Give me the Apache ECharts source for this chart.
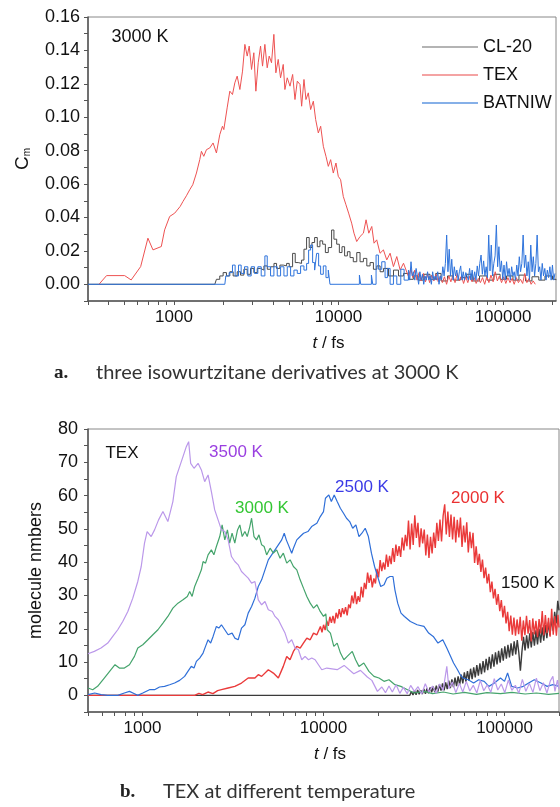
<!DOCTYPE html>
<html>
<head>
<meta charset="utf-8">
<script src="https://cdn.jsdelivr.net/npm/echarts@6.0.0/dist/echarts.min.js"></script>
<style>
  html, body { margin: 0; padding: 0; background: #fff; }
  #chart { width: 560px; height: 807px; }
</style>
</head>
<body>
<div id="chart"></div>
<script>
// ---------- Panel a: C_m of three isowurtzitane derivatives at 3000 K ----------
// each point is [t in fs, C_m]
const cl20 = [
  [300,0],[1770,0],[1811,0.003],[1897,0.005],[1989,0.007],[2084,0.005],[2184,0.0075],[2289,0.005],
  [2421,0.0075],[2536,0.0055],[2658,0.009],[2786,0.006],[2919,0.0095],[3059,0.007],[3206,0.0095],
  [3360,0.0085],[3521,0.011],[3690,0.009],[3867,0.0105],[4052,0.0125],[4202,0.0095],[4404,0.0115],
  [4615,0.011],[4836,0.0125],[5018,0.0105],[5259,0.0185],[5456,0.013],[5691,0.0125],[5963,0.0145],
  [6166,0.021],[6397,0.028],[6636,0.022],[6897,0.025],[7158,0.028],[7430,0.0225],[7711,0.026],
  [8013,0.024],[8320,0.019],[8670,0.022],[9080,0.0325],[9380,0.027],[9750,0.024],[10120,0.019],
  [10500,0.0225],[10890,0.017],[11320,0.0195],[11750,0.016],[12300,0.0135],[12910,0.019],
  [13520,0.0135],[14170,0.0155],[14860,0.011],[15560,0.013],[16300,0.009],[17100,0.011],
  [17900,0.0075],[18760,0.0095],[20130,0.005],[21590,0.0085],[23150,0.005],[24830,0.0065],
  [26620,0.003],[28500,0.005],[30500,0.0025],[33000,0.006],[36000,0.003],[39000,0.0065],
  [42000,0.002],[46000,0.005],[50000,0.0025],[55000,0.004],[60000,0.006],[65000,0.002],
  [72000,0.005],[80000,0.0025],[88000,0.006],[96000,0.003],[105000,0.005],[115000,0.0025],
  [125000,0.0055],[137000,0.002],[150000,0.0045],[165000,0.0025],[180000,0.005],[200000,0.003],
  [210000,0.0025]
];
const tex = [
  [350,0],[389,0.0052],[501,0.0052],[549,0.0026],[627,0.0106],[694,0.0276],[745,0.0206],[837,0.0226],
  [877,0.0326],[941,0.0406],[1010,0.0426],[1090,0.0466],[1134,0.0496],[1190,0.053],[1246,0.0566],
  [1300,0.0596],[1369,0.0666],[1434,0.0746],[1468,0.0796],[1517,0.0766],[1575,0.0806],[1649,0.0816],
  [1728,0.0846],[1811,0.0786],[1898,0.0896],[1970,0.0946],[2008,0.0926],[2104,0.1056],[2184,0.1156],
  [2267,0.1136],[2343,0.1206],[2421,0.1246],[2514,0.1166],[2609,0.1276],[2696,0.1436],[2786,0.1366],
  [2865,0.1426],[2960,0.1286],[3057,0.1386],[3145,0.1156],[3250,0.1326],[3358,0.1426],[3453,0.1306],
  [3567,0.1436],[3686,0.1296],[3790,0.1366],[3916,0.1326],[4046,0.1496],[4161,0.1266],[4300,0.1346],
  [4443,0.1236],[4614,0.1316],[4722,0.1166],[4879,0.1236],[5071,0.1186],[5262,0.1256],[5437,0.1106],
  [5617,0.1216],[5832,0.1196],[5968,0.1066],[6167,0.1226],[6341,0.1106],[6552,0.1146],[6769,0.1046],
  [7030,0.1096],[7263,0.0986],[7539,0.0906],[7790,0.0946],[8087,0.0826],[8392,0.0766],[8671,0.0706],
  [8959,0.0746],[9298,0.0666],[9650,0.0726],[9970,0.0646],[10300,0.0626],[10690,0.0526],[11100,0.0476],
  [11520,0.0426],[12020,0.0366],[12420,0.0306],[12900,0.0256],[13520,0.0286],[14170,0.0306],
  [14710,0.0386],[15280,0.0306],[15930,0.0346],[16450,0.0246],[17070,0.0266],[17890,0.0186],
  [18750,0.0206],[19650,0.0146],[20590,0.0186],[21580,0.0106],[22610,0.0166],[23700,0.0086],
  [24840,0.0126],[26630,0.0046],[27500,0.0095],[28300,0.004],[29100,0.0085],[30000,0.0025],
  [30900,0.007],[31800,0.002],[32800,0.0065],[33800,0.0015],[34800,0.006],[35800,0.001],
  [36900,0.0055],[38000,0.002],[39200,0.006],[40400,0.0015],[41600,0.005],[42800,0.001],
  [44100,0.0045],[45400,0],[46800,0.005],[48200,0.0015],[49600,0.0055],[51100,0.001],
  [52700,0.0065],[54300,0.002],[55900,0.005],[57600,0.0005],[59300,0.0045],[61100,0.001],
  [62900,0.005],[64800,0.0015],[66700,0.004],[68700,0.0005],[70800,0.0035],[72900,0.001],
  [75100,0.004],[77400,0],[79700,0.0045],[82100,0.001],[84500,0.0055],[87100,0.0015],
  [89700,0.0075],[92400,0.002],[95100,0.005],[98000,0.001],[100900,0.0045],[104000,0.0005],
  [107100,0.004],[110300,0.001],[113600,0.0035],[117000,0],[120500,0.004],[124100,0.001],
  [127800,0.003],[131700,0.0005],[135600,0.0065],[139700,0.001],[143900,0.0035],[148200,0],
  [152600,0.002],[157200,0]
];
const batniw = [
  [300,0],[2037,0],[2065,0.005],[2164,0.007],[2267,0.0115],[2353,0.005],[2466,0.0115],[2560,0.0065],
  [2683,0.0105],[2811,0.005],[2946,0.0105],[3087,0.0065],[3234,0.0105],[3389,0.005],[3568,0.017],
  [3687,0.0105],[3863,0.005],[4048,0.0105],[4242,0.005],[4445,0.0105],[4658,0.005],[4880,0.0105],
  [5114,0.005],[5358,0.0085],[5615,0.0065],[5883,0.011],[6165,0.0085],[6399,0.0125],[6581,0.0205],
  [6768,0.0235],[6961,0.013],[7159,0.0085],[7362,0.0185],[7572,0.011],[7787,0.006],[8083,0.011],
  [8390,0.004],[8669,0.0085],[8874,0],[13395,0],[13400,0.0055],[13648,0],[15848,0],[15850,0.0055],
  [16148,0],[16920,0.0175],[17481,0.009],[18318,0.0135],[19194,0.004],[19832,0.0095],[20592,0],
  [21577,0.005],[22610,0],[23912,0.009],[25056,0.0025],[26620,0.0085],[27100,0.0025],[27590,0.0135],
  [28080,0.005],[28590,0.0075],[29100,0.0025],[29630,0.0095],[30160,0.005],[30700,0],[31250,0.0075],
  [31820,0.0025],[32390,0.006],[32970,0],[33560,0.005],[34170,0.0025],[34780,0.0075],[35410,0.0025],
  [36040,0.005],[36690,0],[37350,0.0075],[38020,0.0025],[38710,0.005],[39400,0.0025],[40110,0.0075],
  [40830,0],[41570,0.005],[42320,0.0025],[43080,0.0105],[43850,0.005],[44640,0.0125],[45450,0.0295],
  [46270,0.0075],[47100,0.021],[47950,0.005],[48810,0.015],[49690,0.0025],[50580,0.0105],
  [51490,0.005],[52420,0.0085],[53360,0.0025],[54320,0.0075],[55300,0.011],[56300,0.0025],
  [57310,0.0075],[58340,0.0025],[59390,0.007],[60460,0.005],[61550,0.0025],[62660,0.0095],
  [63790,0.0025],[64930,0.0085],[66100,0.0025],[67290,0.0075],[68500,0.0025],[69740,0.011],
  [70990,0.005],[72270,0.0125],[73570,0.0175],[74900,0.006],[76240,0.014],[77620,0.005],
  [79010,0.0105],[80430,0.004],[81880,0.0295],[83360,0.008],[84860,0.0235],[86380,0.005],
  [87940,0.0125],[89520,0.017],[91130,0.0355],[92770,0.0105],[94440,0.0225],[96140,0.0075],
  [97870,0.014],[99630,0.003],[101430,0.0115],[103250,0.0025],[105110,0.0135],[107000,0.005],
  [108930,0.0095],[110890,0.0025],[112890,0.0105],[114920,0.005],[116990,0.0075],[119090,0.0025],
  [121240,0.0115],[123420,0.005],[125640,0.0165],[127900,0.0075],[130200,0.0125],[132550,0.0295],
  [134930,0.01],[137360,0.0175],[139840,0.005],[142350,0.0135],[144910,0.0025],[147520,0.0235],
  [150180,0.0075],[152880,0.0165],[155630,0.005],[158430,0.0125],[161290,0.0295],[164190,0.0075],
  [167140,0.0105],[170150,0.0025],[173210,0.0125],[176330,0.005],[179510,0.0095],[182740,0.0025],
  [186030,0.0085],[189380,0.004],[192790,0.0105],[196260,0.0025],[199790,0.0115],[203380,0.0025],
  [207000,0.0065]
];
const topTicks = [300,400,500,600,700,800,900,1000,2000,3000,4000,5000,6000,7000,8000,9000,
  10000,20000,30000,40000,50000,60000,70000,80000,90000,100000,200000];
const topTickLabels = [1000, 10000, 100000];

// ---------- Panel b: TEX molecule numbers at different temperatures ----------
const k1500 = [
  [500,0],[29000,0],[30000,0],[30600,1.2],[31210,0.1],[31830,1.4],[32470,0.2],[33120,1.6],[33780,0.3],
  [34460,1.5],[35150,0.4],[35850,1.9],[36570,0.5],[37300,2.1],[38050,0.6],[38810,2.4],[39580,0.9],
  [40380,2.6],[41180,1.0],[42010,2.9],[42850,1.1],[43700,3.3],[44580,1.4],[45470,3.6],[46380,1.5],
  [47310,3.9],[48250,1.9],[49220,4.4],[50200,2.2],[51210,4.8],[52230,2.5],[53280,5.3],[54340,2.8],
  [55430,5.7],[56540,3.2],[57670,6.2],[58820,3.6],[60000,6.9],[61200,4.1],[62420,7.3],[63670,4.4],
  [64940,8.0],[66240,4.9],[67570,8.4],[68920,5.4],[70300,9.1],[71700,5.9],[73140,9.6],[74600,6.4],
  [76090,10.3],[77610,6.9],[79170,11.0],[80750,7.6],[82370,11.6],[84010,8.0],[85690,12.3],[87410,8.6],
  [89160,12.9],[90940,9.3],[92760,13.4],[94610,9.8],[96500,14.1],[98430,10.4],[100400,14.7],
  [102410,11.0],[104460,15.2],[106550,11.4],[108680,15.6],[110850,11.9],[113070,16.2],[115330,12.3],
  [117640,16.6],[119990,12.8],[122390,7.4],[124840,13.2],[127340,17.6],[129880,13.5],[132480,18.0],
  [135130,14.1],[137830,18.6],[140590,14.4],[143400,19.0],[146270,14.9],[149200,19.5],[152180,15.3],
  [155220,20.0],[158330,15.8],[161490,20.4],[164720,16.4],[168020,21.1],[171380,17.2],[174810,21.9],
  [178300,18.0],[181870,23.2],[185510,19.4],[189220,25.1],[193000,21.6],[196860,28.4],[200000,25.5]
];
const k2000 = [
  [500,0],[1942,0],[2050,0.6],[2150,0.2],[2300,1],[2450,0.5],[2600,1.4],[2730,1.7],[2972,2.2],
  [3236,2.7],[3524,3.7],[3837,5.2],[4180,5.2],[4362,6.2],[4552,5.7],[4956,7.7],[5285,6.7],[5630,5.2],
  [5995,8.7],[6265,11.7],[6533,10.7],[6820,13.2],[7115,14.7],[7430,14.2],[7745,15.7],[8090,17.2],
  [8440,16.7],[8810,18.7],[9190,18.2],[9616,20.7],[9810,18.9],[10010,21.2],[10210,19.6],[10420,22.4],
  [10630,20.9],[10840,23.6],[11060,21.8],[11280,23.9],[11510,21.6],[11740,24.8],[11980,23.1],
  [12220,25.9],[12470,23.5],[12720,26.2],[12980,24.4],[13240,26.5],[13510,24.0],[13780,27.3],
  [14060,26.2],[14340,30.0],[14630,27.6],[14930,31.2],[15230,27.4],[15540,29.8],[15850,28.1],
  [16170,32.6],[16500,29.4],[16830,33.8],[17170,31.9],[17520,36.9],[17870,33.8],[18230,36.2],
  [18600,32.4],[18980,35.1],[19360,33.6],[19750,38.0],[20150,35.4],[20560,40.6],[20980,37.3],
  [21400,39.9],[21830,37.8],[22270,42.3],[22720,38.6],[23180,41.9],[23650,39.4],[24130,44.2],
  [24620,40.1],[25120,45.3],[25630,41.9],[26150,44.8],[26680,41.6],[27220,47.4],[27770,43.5],
  [28330,48.2],[28900,44.8],[29480,52.5],[30080,43.8],[30690,51.6],[31310,45.2],[31940,54.1],
  [32590,47.3],[33250,51.8],[33920,44.5],[34610,50.2],[35310,45.6],[36020,49.8],[36750,42.0],
  [37490,48.3],[38250,41.3],[39020,47.6],[39810,42.6],[40620,48.9],[41440,44.3],[42280,51.8],
  [43130,46.4],[44000,52.8],[44890,46.2],[45800,53.9],[46730,57.4],[47670,48.3],[48640,55.2],
  [49620,47.6],[50620,54.3],[51650,46.8],[52690,53.6],[53760,45.9],[54840,52.7],[55950,47.4],
  [57080,53.4],[58240,44.6],[59410,51.0],[60610,45.9],[61840,52.0],[63090,42.9],[64370,49.1],
  [65670,44.2],[67000,48.8],[68350,39.8],[69730,44.8],[71140,39.2],[72580,42.5],[74050,37.1],
  [75550,40.8],[77070,35.2],[78630,38.4],[80220,33.6],[81840,36.5],[83490,31.0],[85180,34.2],
  [86900,29.1],[88660,32.0],[90450,27.2],[92280,30.4],[94140,25.3],[96050,28.6],[97990,23.4],
  [99970,26.9],[101990,21.6],[104050,25.1],[106150,19.3],[108300,24.0],[110490,18.2],[112720,23.4],
  [115000,17.9],[117320,22.8],[119690,18.4],[122110,23.6],[124580,16.4],[127090,22.5],[129660,18.1],
  [132280,23.9],[134960,18.5],[137680,22.6],[140460,16.2],[143300,23.1],[146200,18.3],[149150,22.4],
  [152170,17.5],[155240,22.9],[158380,18.6],[161580,25.3],[164840,18.0],[168170,24.1],[171570,18.7],
  [175040,23.3],[178570,17.6],[182180,26.0],[185860,18.2],[189620,23.8],[193450,17.9],[197360,24.2],
  [200000,20.4]
];
const k2500 = [
  [500,0.2],[545,0.7],[590,0.2],[643,0],[730,0],[794,0.7],[847,1.2],[903,0.5],[942,0],[1004,0.7],
  [1093,1.7],[1166,1.7],[1242,2.5],[1324,2.7],[1412,3.2],[1504,3.7],[1604,4.5],[1709,5.7],[1782,7.2],
  [1860,8.7],[1926,8.2],[1985,10.2],[2070,11.2],[2161,12.7],[2230,14.7],[2303,16.7],[2380,15.7],
  [2455,17.7],[2560,20.7],[2640,20.2],[2730,21.2],[2849,19.7],[2972,18.2],[3126,18.7],[3236,17.2],
  [3378,16.7],[3524,20.2],[3678,21.2],[3837,24.7],[4006,26.7],[4180,29.2],[4362,32.7],[4552,34.7],
  [4750,37.7],[4956,40.7],[5170,42.2],[5395,43.7],[5630,45.2],[5875,46.7],[6070,48.7],[6230,46.7],
  [6396,45.2],[6673,42.7],[6820,44.2],[7120,46.7],[7430,47.7],[7760,48.7],[8200,49.2],[8600,50.7],
  [9190,51.7],[9600,53.7],[10000,55.2],[10250,59.2],[10700,60.2],[11050,58.2],[11460,60.2],
  [11900,58.2],[12390,56.2],[12900,54.7],[13400,53.2],[13950,52.2],[14500,50.2],[15100,51.2],
  [15700,47.7],[16300,48.7],[17000,50.2],[17700,47.7],[18400,42.7],[19150,38.7],[19900,35.7],
  [20700,32.7],[21600,33.2],[22400,35.2],[23300,35.7],[24200,35.7],[24800,31.7],[25700,27.7],
  [26800,24.7],[28000,23.7],[30200,22.2],[32900,21.2],[35900,20.7],[38100,18.7],[40400,17.7],
  [42900,15.7],[45600,16.7],[48000,14.2],[50400,11.7],[52300,9.7],[55000,7.7],[56900,6.2],
  [59000,5.2],[63000,4.7],[67500,3.7],[72000,4.7],[77200,4.2],[82000,2.7],[88000,3.7],[95000,5.2],
  [100000,4.2],[104000,6.7],[109600,2.7],[118000,2.2],[127000,2.7],[136000,3.7],[146000,4.7],
  [159000,3.7],[172000,2.7],[185000,3.2],[200000,2.7]
];
const k3000 = [
  [500,2.2],[531,1.7],[565,2.7],[615,5.2],[670,7.7],[705,9.2],[745,8.2],[794,8.2],[847,9.2],
  [903,11.7],[942,14.2],[1004,15.2],[1071,16.7],[1141,18.2],[1217,19.7],[1297,21.7],[1381,23.7],
  [1472,26.2],[1570,27.7],[1674,28.7],[1769,29.7],[1823,31.2],[1880,29.7],[1942,32.7],[2028,35.2],
  [2115,37.7],[2161,40.2],[2230,39.7],[2303,42.2],[2402,43.7],[2480,42.2],[2560,44.7],[2672,47.7],
  [2754,51.2],[2849,46.7],[2946,49.7],[3030,45.7],[3126,48.7],[3236,45.7],[3350,49.7],[3450,51.2],
  [3556,47.7],[3680,49.2],[3790,47.7],[3917,50.7],[4006,53.2],[4130,47.7],[4266,46.7],[4400,48.2],
  [4552,45.2],[4700,44.7],[4853,42.2],[5070,44.2],[5285,42.7],[5510,43.7],[5755,41.2],[6000,42.7],
  [6265,39.7],[6540,40.7],[6820,38.7],[7120,37.7],[7430,34.7],[7750,32.2],[8090,29.7],[8440,27.7],
  [8810,26.2],[9200,27.2],[9590,25.2],[10000,23.7],[10300,24.5],[10480,19.7],[10920,18.7],
  [11400,14.7],[11900,15.7],[12410,12.7],[12960,10.7],[13520,11.7],[14420,13.2],[15040,10.7],
  [15700,8.7],[16700,9.7],[17830,7.2],[19000,5.7],[20250,5.2],[21600,4.2],[23000,4.7],[24800,3.2],
  [26730,2.7],[29100,1.7],[31700,0.7],[36000,1.2],[40000,0.5],[46000,1],[52000,0.4],[60000,0.9],
  [70000,0.3],[80000,0.8],[95000,0.5],[110000,0.9],[130000,0.4],[150000,0.7],[175000,0.3],[200000,0.6]
];
const k3500 = [
  [500,12.5],[542,13.2],[590,14.2],[643,15.7],[685,17.7],[730,19.7],[778,22.2],[830,25.2],[884,29.2],
  [942,34.2],[984,38.7],[1026,45.7],[1061,49.2],[1117,47.7],[1166,49.7],[1227,52.7],[1297,55.2],
  [1381,52.2],[1472,58.2],[1537,65.7],[1604,68.7],[1674,71.7],[1746,74.7],[1799,76.2],[1846,69.7],
  [1926,68.2],[2028,69.7],[2115,67.7],[2206,64.2],[2303,66.2],[2402,61.2],[2506,55.7],[2616,52.7],
  [2730,49.7],[2849,49.2],[2972,46.7],[3102,41.7],[3236,40.2],[3378,39.2],[3524,37.2],[3678,36.2],
  [3837,35.2],[4006,33.7],[4180,34.2],[4362,28.7],[4552,27.2],[4750,28.2],[4956,25.7],[5217,25.2],
  [5395,23.7],[5630,22.7],[5875,20.7],[6130,18.7],[6396,15.7],[6673,16.7],[6964,14.2],[7267,13.7],
  [7583,10.7],[7911,11.7],[8256,10.7],[8614,11.2],[8988,10.7],[9378,9.2],[9786,7.7],[10430,8.2],
  [11900,7.7],[13000,9],[14700,6.5],[16000,7.5],[17460,5.5],[18500,4.5],[19860,1.2],[21000,2.5],
  [22000,0.8],[23000,2.8],[24000,1],[25200,3.2],[26400,0.6],[27600,2.4],[29000,0.5],[30300,3],
  [31800,1.2],[33300,2.6],[34900,0.4],[36500,3.5],[38200,1],[40000,2.8],[41900,0.6],[43800,3.4],
  [45800,1.5],[48000,8.7],[49300,2],[51500,4],[53800,0.8],[56300,3.6],[58800,1],[61500,4.2],
  [64300,1.3],[67200,3],[70300,0.7],[73500,4.5],[76800,1.4],[80300,3.2],[84000,0.9],[87800,5],
  [91800,1.6],[96000,3.4],[100400,0.8],[105000,4.6],[109800,1.5],[114800,3],[120000,0.6],
  [125500,4.8],[131200,1.2],[137200,3.6],[143500,0.9],[150000,5.2],[156800,1.4],[164000,3.8],
  [171500,0.7],[179300,4.4],[185000,5.7],[190000,1.2],[196000,4.6],[200000,1.8]
];
const bottomTicks = [500,600,700,800,900,1000,2000,3000,4000,5000,6000,7000,8000,9000,
  10000,20000,30000,40000,50000,60000,70000,80000,90000,100000,200000];
const bottomTickLabels = [1000, 10000, 100000];

// ---------- helpers ----------
const LOG = v => Math.log10(v);
const toLogTime = pts => pts.map(p => [Math.log10(p[0]), p[1]]);
const AXIS_FONT = 'Liberation Sans, Arial, sans-serif';
const axisLineStyle = { color: '#555', width: 1.5 };

function timeAxis(gridIndex, tMin, tMax, ticks, labels) {
  return {
    gridIndex, type: 'value', min: LOG(tMin), max: LOG(tMax),
    axisLine: { show: true, onZero: false, lineStyle: axisLineStyle },
    axisTick: { show: true, customValues: ticks.map(LOG), length: 4, lineStyle: { color: '#555' } },
    axisLabel: {
      customValues: labels.map(LOG), margin: 8, color: '#111', fontSize: 17, fontFamily: AXIS_FONT,
      formatter: v => String(Math.round(Math.pow(10, v)))
    },
    splitLine: { show: false },
    name: '{it|t} / fs', nameLocation: 'middle', nameGap: 34,
    nameTextStyle: {
      color: '#111', fontSize: 17, fontFamily: AXIS_FONT, padding: [0, 0, 0, 13],
      rich: { it: { fontStyle: 'italic', fontSize: 17, fontFamily: AXIS_FONT, color: '#111' } }
    }
  };
}

function line(name, data, color, xi, width, step) {
  return {
    name, type: 'line', xAxisIndex: xi, yAxisIndex: xi, data: toLogTime(data),
    showSymbol: false, symbol: 'none', step: step || false, silent: true,
    lineStyle: { color, width: width || 1 }, itemStyle: { color },
    emphasis: { disabled: true }
  };
}

const chart = echarts.init(document.getElementById('chart'), null, { renderer: 'canvas' });

chart.setOption({
  animation: false,
  backgroundColor: '#fff',
  grid: [
    { left: 88, right: 4, top: 17, bottom: 506, show: true, borderColor: '#888', borderWidth: 1 },
    { left: 88, right: 1, top: 429, bottom: 95, show: true, borderColor: '#888', borderWidth: 1 }
  ],
  xAxis: [
    timeAxis(0, 300, 210000, topTicks, topTickLabels),
    timeAxis(1, 500, 200000, bottomTicks, bottomTickLabels)
  ],
  yAxis: [
    {
      gridIndex: 0, type: 'value', min: -0.01, max: 0.16, interval: 0.01,
      axisLine: { show: true, onZero: false, lineStyle: axisLineStyle },
      axisTick: { show: true, length: 4, lineStyle: { color: '#555' } },
      axisLabel: {
        margin: 8, color: '#111', fontSize: 18, fontFamily: AXIS_FONT,
        formatter: v => { const k = Math.round(v * 100); return (k >= 0 && k % 2 === 0) ? (k / 100).toFixed(2) : ''; }
      },
      splitLine: { show: false },
      name: '{c|C}{m|m}', nameLocation: 'middle', nameGap: 56, nameRotate: 90,
      nameTextStyle: {
        color: '#111', fontFamily: AXIS_FONT,
        rich: {
          c: { fontSize: 19, fontFamily: AXIS_FONT, color: '#111', lineHeight: 22, verticalAlign: 'bottom' },
          m: { fontSize: 10, fontFamily: AXIS_FONT, color: '#111', lineHeight: 22, verticalAlign: 'bottom' }
        }
      }
    },
    {
      gridIndex: 1, type: 'value', min: -5, max: 80, interval: 5,
      axisLine: { show: true, onZero: false, lineStyle: axisLineStyle },
      axisTick: { show: true, length: 4, lineStyle: { color: '#555' } },
      axisLabel: {
        margin: 10, color: '#111', fontSize: 18, fontFamily: AXIS_FONT,
        formatter: v => { const k = Math.round(v); return (k >= 0 && k % 10 === 0) ? String(k) : ''; }
      },
      splitLine: { show: false },
      name: 'molecule nmbers', nameLocation: 'middle', nameGap: 43, nameRotate: 90,
      nameTextStyle: { color: '#111', fontSize: 18, fontFamily: AXIS_FONT }
    }
  ],
  legend: {
    orient: 'vertical', left: 417, top: 33, selectedMode: false,
    itemWidth: 56, itemHeight: 2, itemGap: 10,
    textStyle: { fontSize: 18, lineHeight: 18, color: '#111', fontFamily: AXIS_FONT },
    data: [
      { name: 'CL-20', icon: 'rect', itemStyle: { color: '#b4b4b4' } },
      { name: 'TEX', icon: 'rect', itemStyle: { color: '#f4a3a3' } },
      { name: 'BATNIW', icon: 'rect', itemStyle: { color: '#86b0e8' } }
    ]
  },
  series: [
    line('CL-20', cl20, '#4a4a4a', 0, 1, 'end'),
    line('TEX', tex, '#ee5252', 0, 1),
    line('BATNIW', batniw, '#2f74dc', 0, 1, 'end'),
    line('1500 K', k1500, '#3b3b3b', 1, 1.4),
    line('2000 K', k2000, '#ea3a3a', 1, 1.4),
    line('2500 K', k2500, '#2f6fd8', 1, 1.2),
    line('3000 K', k3000, '#45a46c', 1, 1.2),
    line('3500 K', k3500, '#bb98ea', 1, 1.2)
  ],
  graphic: [
    { type: 'text', style: { text: '3000 K', x: 140, y: 37, textAlign: 'center', textVerticalAlign: 'middle', fontSize: 18, fontFamily: AXIS_FONT, fill: '#111' } },
    { type: 'text', style: { text: 'TEX', x: 122, y: 453, textAlign: 'center', textVerticalAlign: 'middle', fontSize: 17, fontFamily: AXIS_FONT, fill: '#111' } },
    { type: 'text', style: { text: '3500 K', x: 236, y: 452, textAlign: 'center', textVerticalAlign: 'middle', fontSize: 17, fontFamily: AXIS_FONT, fill: '#9a3fe0' } },
    { type: 'text', style: { text: '3000 K', x: 262, y: 508, textAlign: 'center', textVerticalAlign: 'middle', fontSize: 17, fontFamily: AXIS_FONT, fill: '#33c633' } },
    { type: 'text', style: { text: '2500 K', x: 362, y: 487, textAlign: 'center', textVerticalAlign: 'middle', fontSize: 17, fontFamily: AXIS_FONT, fill: '#3a3ae6' } },
    { type: 'text', style: { text: '2000 K', x: 478, y: 498, textAlign: 'center', textVerticalAlign: 'middle', fontSize: 17, fontFamily: AXIS_FONT, fill: '#ea3030' } },
    { type: 'text', style: { text: '1500 K', x: 528, y: 583, textAlign: 'center', textVerticalAlign: 'middle', fontSize: 17, fontFamily: AXIS_FONT, fill: '#111' } },
    { type: 'text', style: { text: 'a.', x: 54, y: 373, textAlign: 'left', textVerticalAlign: 'middle', fontSize: 19, fontWeight: 'bold', fontFamily: 'Liberation Serif, serif', fill: '#222' } },
    { type: 'text', style: { text: 'three isowurtzitane derivatives at 3000 K', x: 96, y: 373, textAlign: 'left', textVerticalAlign: 'middle', fontSize: 20, fontFamily: 'Lato, sans-serif', fill: '#333' } },
    { type: 'text', style: { text: 'b.', x: 120, y: 792, textAlign: 'left', textVerticalAlign: 'middle', fontSize: 19, fontWeight: 'bold', fontFamily: 'Liberation Serif, serif', fill: '#222' } },
    { type: 'text', style: { text: 'TEX at different temperature', x: 163, y: 792, textAlign: 'left', textVerticalAlign: 'middle', fontSize: 20, fontFamily: 'Lato, sans-serif', fill: '#333' } }
  ]
});
</script>
</body>
</html>
